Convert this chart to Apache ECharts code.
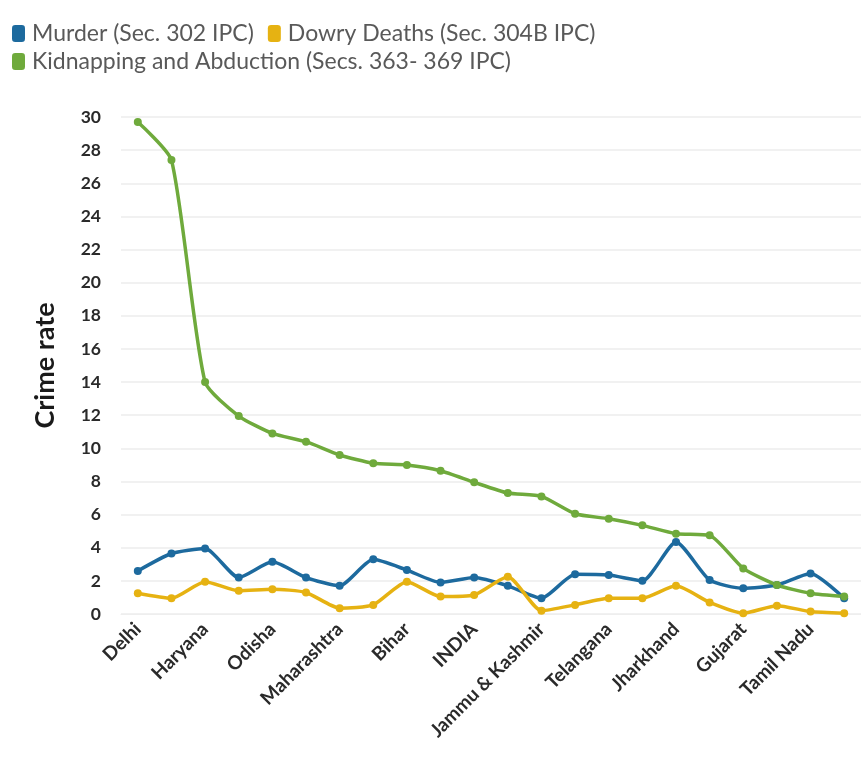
<!DOCTYPE html>
<html><head><meta charset="utf-8">
<script src="https://cdn.jsdelivr.net/npm/echarts@6/dist/echarts.min.js"></script>
<style>html,body{margin:0;padding:0;background:#fff}#c{width:861px;height:771px}</style>
</head><body><div id="c"></div>
<script>
const categories = ['Delhi','Assam','Haryana','Madhya Pradesh','Odisha','Rajasthan','Maharashtra','Uttar Pradesh','Bihar','West Bengal','INDIA','Chhattisgarh','Jammu & Kashmir','Punjab','Telangana','Uttarakhand','Jharkhand','Karnataka','Gujarat','Andhra Pradesh','Tamil Nadu','Kerala'];
const seriesNames = ['Murder (Sec. 302 IPC)','Dowry Deaths (Sec. 304B IPC)','Kidnapping and Abduction (Secs. 363- 369 IPC)'];
const murder = [2.6,3.65,3.95,2.2,3.15,2.2,1.7,3.3,2.65,1.9,2.2,1.7,0.95,2.4,2.35,2.0,4.35,2.05,1.55,1.75,2.45,0.95];
const dowry = [1.25,0.95,1.95,1.4,1.5,1.3,0.35,0.55,1.95,1.05,1.15,2.25,0.2,0.55,0.95,0.95,1.7,0.7,0.05,0.5,0.15,0.05];
const kidnap = [29.7,27.4,14.0,11.95,10.9,10.4,9.6,9.1,9.0,8.65,7.95,7.3,7.1,6.05,5.75,5.35,4.85,4.75,2.75,1.75,1.25,1.05];
const yTicks = {min:0, max:30, interval:2};

const chart = echarts.init(document.getElementById('c'), null, {renderer:'canvas'});
const font = 'Lato, "Open Sans", "Noto Sans", sans-serif';
function ser(name, data, color){
  return {name, type:'line', data, smooth:0.2, symbol:'circle', symbolSize:8,
    lineStyle:{width:3.5, color}, itemStyle:{color}, emphasis:{disabled:true}};
}
const legendBase = {left:12, itemWidth:13, itemHeight:17, itemGap:14, icon:'roundRect',
    textStyle:{fontFamily:font, fontSize:23, color:'#595959', padding:[0,0,0,2]}, padding:[0,0,0,0]};
chart.setOption({
  animation:false,
  color:['#1d6a9e','#e6b212','#6faa3c'],
  legend:[Object.assign({top:22, data:[seriesNames[0], seriesNames[1]]}, legendBase),
          Object.assign({top:50, data:[seriesNames[2]]}, legendBase)],
  grid:{left:121, right:-8, top:117, bottom:157},
  xAxis:{type:'category', data:categories, boundaryGap:true,
    axisLine:{show:true, lineStyle:{color:'#eeeeee'}}, axisTick:{show:false},
    axisLabel:{interval:1, rotate:45, fontFamily:font, fontWeight:'bold', fontSize:19, color:'#2a2a2a', margin:12}},
  yAxis:{type:'value', min:yTicks.min, max:yTicks.max, interval:yTicks.interval,
    name:'Crime rate', nameLocation:'middle', nameGap:62, nameRotate:90,
    nameTextStyle:{fontFamily:font, fontWeight:'bold', fontSize:27, color:'#1a1a1a'},
    axisLine:{show:false}, axisTick:{show:false},
    axisLabel:{fontFamily:font, fontWeight:'bold', fontSize:17.5, color:'#2a2a2a', margin:20},
    splitLine:{lineStyle:{color:'#ececec', width:1.5}}},
  series:[ser(seriesNames[0], murder, '#1d6a9e'),
          ser(seriesNames[1], dowry, '#e6b212'),
          ser(seriesNames[2], kidnap, '#6faa3c')]
});
</script></body></html>
